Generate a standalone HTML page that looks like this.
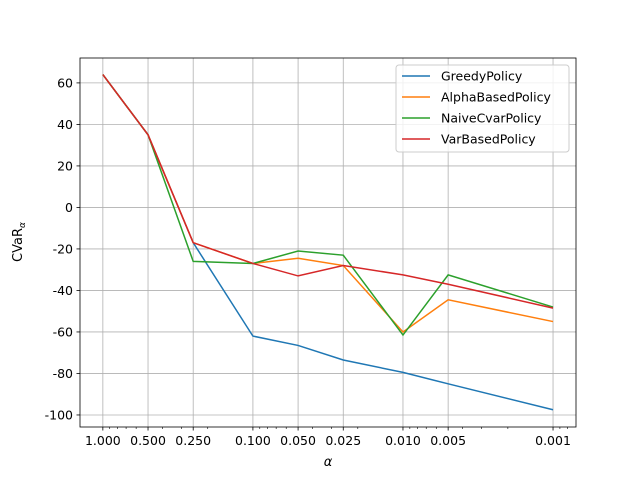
<!DOCTYPE html>
<html><head><meta charset="utf-8"><style>
body{margin:0;background:#fff}
svg{font-family:"DejaVu Sans","Liberation Sans",sans-serif}
</style></head><body>
<svg id="chart" width="640" height="480">
<rect width="640" height="480" fill="#fff"/>
<g id="grid"></g><g id="series"></g><g id="axes"></g>
</svg>
<script>
const alphas=[1.0,0.5,0.25,0.1,0.05,0.025,0.01,0.005,0.001];
const tickLabels=["1.000","0.500","0.250","0.100","0.050","0.025","0.010","0.005","0.001"];
const yTicks=[60,40,20,0,-20,-40,-60,-80,-100];
const greedy=[64,35,-17,-62,-66.5,-73.5,-79.5,-85,-97.5];
const alphaBased=[64,35,-17,-27,-24.5,-28,-60,-44.5,-55];
const naiveCvar=[64,35,-26,-27,-21,-23,-61.5,-32.5,-48];
const varBased=[64,35,-17,-27,-33,-28,-32.5,-37,-48.5];
const seriesNames=["GreedyPolicy","AlphaBasedPolicy","NaiveCvarPolicy","VarBasedPolicy"];
const colors=["#1f77b4","#ff7f0e","#2ca02c","#d62728"];
const L=80,R=576,T=58,B=427;
const xmax=Math.log10(1.42),xmin=Math.log10(0.000703);
const ymax=72,ymin=-105.8;
const X=v=>L+(xmax-Math.log10(v))/(xmax-xmin)*(R-L);
const Y=v=>T+(ymax-v)/(ymax-ymin)*(B-T);
const NS="http://www.w3.org/2000/svg";
function mk(tag,attrs,parent,text){const e=document.createElementNS(NS,tag);for(const k in attrs)e.setAttribute(k,attrs[k]);if(text!==undefined)e.textContent=text;parent.appendChild(e);return e;}
const grid=document.getElementById('grid'),ser=document.getElementById('series'),ax=document.getElementById('axes');
alphas.forEach((a,i)=>{const x=X(a);
const g=mk('line',{x1:x,x2:x,y1:T,y2:B,stroke:'#b0b0b0','stroke-width':0.8},grid);

mk('line',{x1:x,x2:x,y1:B,y2:B+3.5,stroke:'#000','stroke-width':0.8},ax);
const t=mk('text',{x:x,y:B+18,'font-size':12.5,'text-anchor':'middle'},ax,tickLabels[i]);
});
for(let n=-4;n<=0;n++)for(let k=2;k<=9;k++){const v=k*Math.pow(10,n);const lv=Math.log10(v);
if(lv>xmax||lv<xmin)continue;if(alphas.some(a=>Math.abs(a-v)<1e-9))continue;const x=X(v);
mk('line',{x1:x,x2:x,y1:B,y2:B+2,stroke:'#000','stroke-width':0.6},ax);}
yTicks.forEach(v=>{const y=Y(v);
const g=mk('line',{x1:L,x2:R,y1:y,y2:y,stroke:'#b0b0b0','stroke-width':0.8},grid);

mk('line',{x1:L-3.5,x2:L,y1:y,y2:y,stroke:'#000','stroke-width':0.8},ax);
const t=mk('text',{x:L-7,y:y+4.5,'font-size':12.5,'text-anchor':'end'},ax,String(v));
});
[greedy,alphaBased,naiveCvar,varBased].forEach((d,s)=>{
const p=mk('polyline',{points:d.map((v,i)=>X(alphas[i])+','+Y(v)).join(' '),fill:'none',stroke:colors[s],'stroke-width':1.5},ser);
});
const fr=mk('rect',{x:L,y:T,width:R-L,height:B-T,fill:'none',stroke:'#000','stroke-width':0.8},ax);

const xl=mk('text',{x:(L+R)/2,y:466,'font-size':13,'text-anchor':'middle','font-style':'italic'},ax,'α');

const yl=mk('text',{x:0,y:0,'font-size':13,'text-anchor':'middle',transform:'translate(22,242) rotate(-90)'},ax);

yl.appendChild(document.createTextNode('CVaR'));
mk('tspan',{'font-size':9,dy:3,'font-style':'italic'},yl,'α');
const lg=mk('g',{},ax);

mk('rect',{x:396,y:65,width:173,height:87,rx:3,fill:'#fff','fill-opacity':0.8,stroke:'#ccc'},lg);
seriesNames.forEach((n,i)=>{const y=76+i*21;
mk('line',{x1:402,x2:430,y1:y,y2:y,stroke:colors[i],'stroke-width':1.5},lg);
const t=mk('text',{x:441,y:y+4.5,'font-size':12.5},lg,n);
});
</script>
</body></html>
